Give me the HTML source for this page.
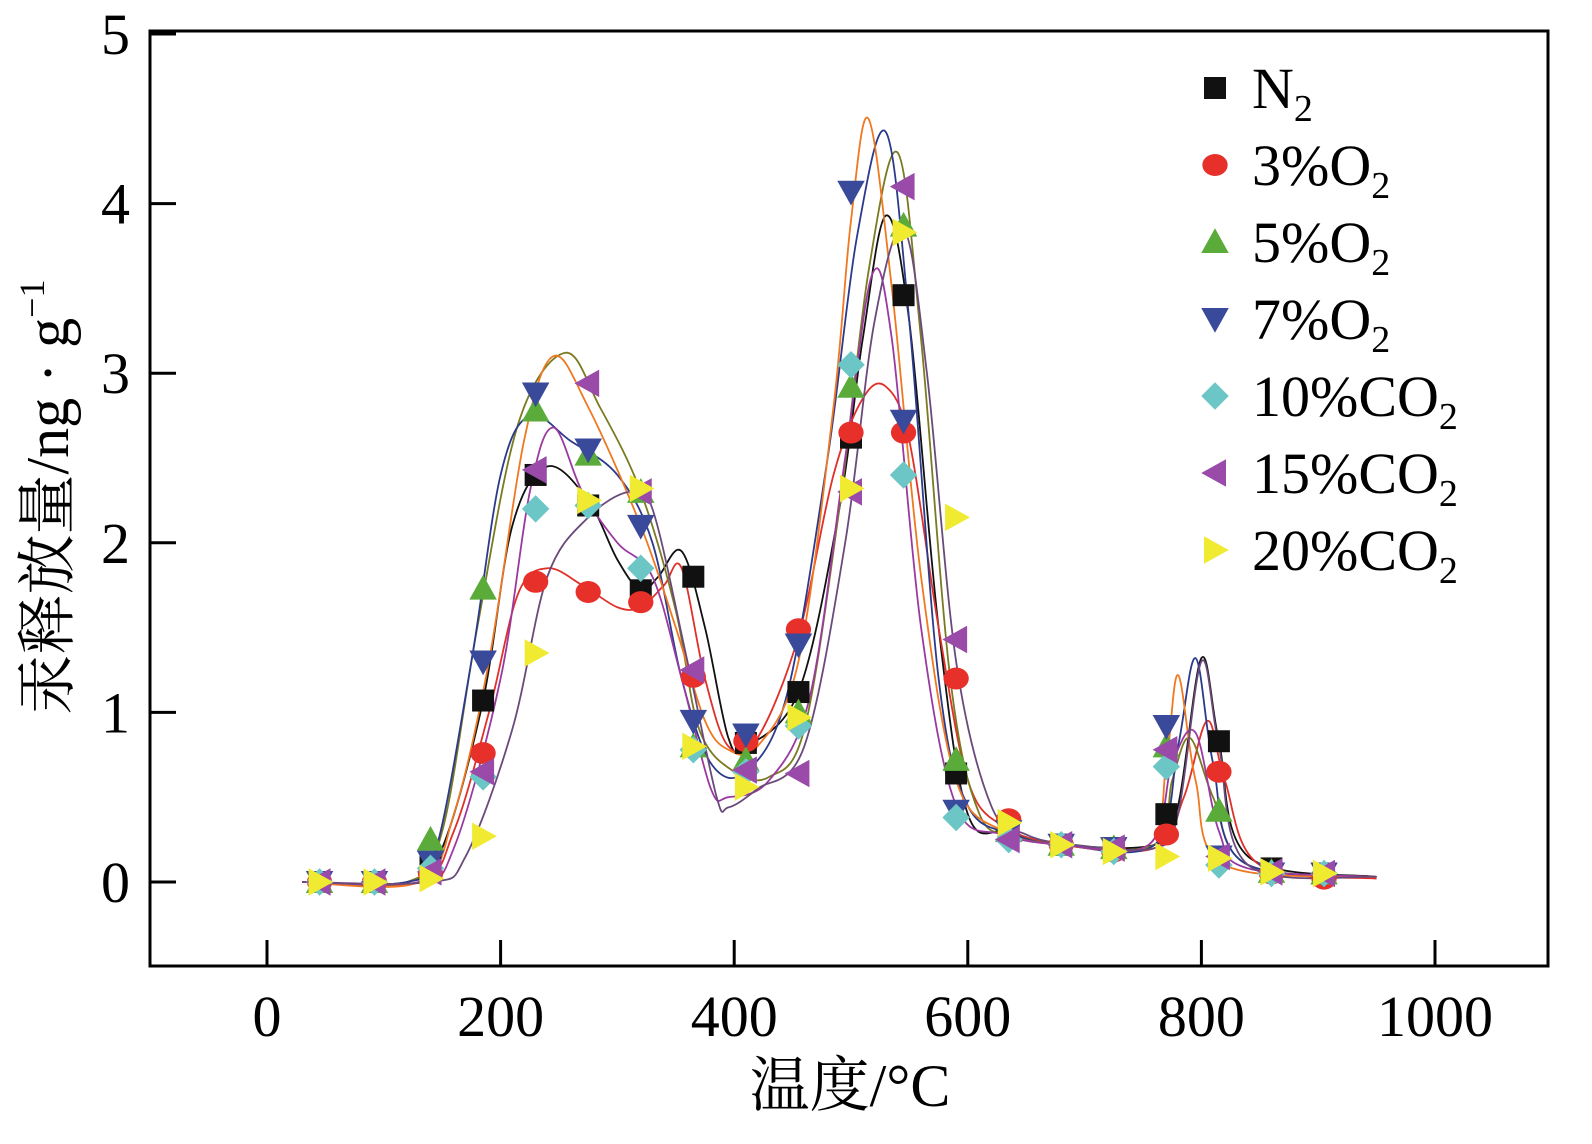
<!DOCTYPE html>
<html><head><meta charset="utf-8">
<style>
body{margin:0;background:#fff;}
svg{display:block;font-family:"Liberation Serif","Noto Serif CJK SC",serif;}
</style></head>
<body>
<svg id="chart" width="1592" height="1144" viewBox="0 0 1592 1144" xmlns="http://www.w3.org/2000/svg">
<rect x="150" y="31" width="1398" height="935" fill="none" stroke="#000" stroke-width="3"/>
<g id="axes"></g>
<g id="curves"></g>
<g id="marks"></g>
<g id="legend"></g>
<text x="850" y="1106" font-size="60" text-anchor="middle">温度/°C</text>
<text transform="translate(68,497) rotate(-90)" font-size="60" text-anchor="middle">汞释放量/ng · g<tspan font-size="36" dy="-24">−1</tspan></text>
</svg>
<script>
const xTicks=[0,200,400,600,800,1000];
const yTicks=[0,1,2,3,4,5];
const temps=[45,92,140,185,230,275,320,365,410,455,500,545,590,635,680,725,770,815,860,905];
const seriesNames=["N2","3%O2","5%O2","7%O2","10%CO2","15%CO2","20%CO2"];
const vN2=[0,0,0.1,1.07,2.4,2.22,1.72,1.8,0.82,1.12,2.62,3.46,0.64,0.32,0.22,0.2,0.4,0.83,0.08,0.05];
const vO3=[0,0,0.05,0.76,1.77,1.71,1.65,1.21,0.83,1.49,2.65,2.65,1.2,0.37,0.22,0.18,0.28,0.65,0.05,0.02];
const vO5=[0,0,0.25,1.73,2.78,2.52,2.3,0.8,0.72,1.0,2.92,3.87,0.72,0.3,0.22,0.2,0.8,0.42,0.06,0.05];
const vO7=[0,0,0.12,1.3,2.88,2.55,2.1,0.95,0.87,1.4,4.07,2.72,0.42,0.3,0.22,0.2,0.92,0.15,0.05,0.05];
const vC10=[0,0,0.08,0.62,2.2,2.22,1.85,0.78,0.65,0.92,3.05,2.4,0.38,0.25,0.22,0.18,0.68,0.1,0.05,0.05];
const vC15=[0,0,0.06,0.65,2.43,2.94,2.3,1.25,0.66,0.64,2.3,4.1,1.43,0.25,0.22,0.2,0.78,0.15,0.06,0.05];
const vC20=[0,0,0.02,0.27,1.35,2.25,2.32,0.8,0.56,0.97,2.32,3.83,2.15,0.35,0.22,0.18,0.15,0.14,0.06,0.05];
const cN2=[[30,0],[120,0],[150,0.2],[185,1.07],[210,2.1],[240,2.45],[275,2.25],[300,1.9],[320,1.72],[335,1.8],[355,1.95],[375,1.5],[395,0.85],[410,0.8],[455,1.12],[490,2.2],[510,3.2],[530,3.93],[550,3.3],[575,1.5],[600,0.4],[635,0.3],[680,0.22],[760,0.22],[780,0.45],[800,1.32],[815,0.83],[840,0.15],[950,0.03]];
const cO3=[[30,0],[130,0],[160,0.3],[190,1.0],[215,1.7],[240,1.85],[270,1.75],[300,1.62],[320,1.62],[340,1.75],[355,1.85],[375,1.2],[395,0.8],[420,0.85],[455,1.45],[485,2.4],[510,2.85],[530,2.92],[550,2.6],[575,1.5],[600,0.6],[630,0.33],[680,0.22],[760,0.2],[785,0.5],[805,0.95],[820,0.6],[850,0.1],[950,0.02]];
const cO5=[[30,0],[120,0],[150,0.3],[180,1.5],[215,2.7],[255,3.12],[285,2.8],[320,2.3],[350,1.6],[370,0.9],[400,0.65],[430,0.62],[460,0.9],[490,2.2],[515,3.6],[540,4.3],[560,3.2],[585,1.2],[610,0.4],[640,0.28],[680,0.22],[760,0.22],[775,0.6],[790,0.85],[810,0.5],[840,0.1],[950,0.03]];
const cO7=[[30,0],[120,0],[145,0.2],[175,1.3],[200,2.4],[225,2.75],[260,2.6],[300,2.4],[330,2.0],[355,1.2],[380,0.7],[410,0.65],[445,1.1],[480,2.5],[505,3.8],[530,4.42],[550,3.3],[575,1.2],[600,0.45],[640,0.28],[680,0.22],[760,0.22],[780,0.8],[795,1.32],[810,0.7],[835,0.12],[950,0.03]];
const cC10=[[30,0],[130,0],[160,0.4],[190,1.3],[220,2.6],[245,3.1],[275,2.8],[320,2.1],[350,1.5],[375,0.95],[395,0.78],[420,0.8],[455,1.3],[485,2.8],[500,3.9],[515,4.5],[535,3.5],[560,1.8],[590,0.6],[630,0.3],[680,0.22],[755,0.22],[770,0.7],[780,1.22],[795,0.6],[820,0.1],[950,0.03]];
const cC15=[[30,0],[130,0],[160,0.2],[200,1.2],[225,2.3],[245,2.68],[270,2.3],[300,2.0],[330,1.8],[355,1.2],[380,0.55],[395,0.5],[430,0.6],[465,1.1],[495,2.5],[518,3.58],[535,3.2],[560,1.5],[590,0.45],[630,0.28],[680,0.22],[755,0.22],[775,0.7],[795,0.88],[815,0.3],[840,0.08],[950,0.03]];
const cC20=[[30,0],[140,0],[170,0.15],[210,0.9],[240,1.8],[275,2.15],[310,2.3],[330,2.2],[360,1.3],[385,0.5],[395,0.44],[420,0.55],[460,0.8],[495,2.0],[520,3.3],[545,3.85],[565,3.0],[590,1.3],[620,0.45],[650,0.28],[690,0.22],[760,0.2],[780,0.4],[800,1.3],[815,0.8],[840,0.1],[950,0.03]];

const NS="http://www.w3.org/2000/svg";
const X=t=>267+t*1.168;
const Y=v=>882-v*169.6;
function mk(tag,parent,attrs){const e=document.createElementNS(NS,tag);for(const k in attrs)e.setAttribute(k,attrs[k]);parent.appendChild(e);return e;}
const axes=document.getElementById('axes');
xTicks.forEach(t=>{
  const l=mk('line',axes,{x1:X(t),x2:X(t),y1:966,y2:940,stroke:'#000','stroke-width':3});
  
  
  const tx=mk('text',axes,{x:X(t),y:1036,'font-size':58,'text-anchor':'middle'});tx.textContent=t;
  
  
});
yTicks.forEach(v=>{
  const l=mk('line',axes,{x1:150,x2:176,y1:Y(v),y2:Y(v),stroke:'#000','stroke-width':3});
  
  
  const tx=mk('text',axes,{x:130,y:Y(v)+20,'font-size':58,'text-anchor':'end'});tx.textContent=v;
  
  
});
function pathFrom(pts){
  const p=pts.map(d=>[X(d[0]),Y(d[1])]);
  let s='M'+p[0][0]+','+p[0][1];
  for(let i=0;i<p.length-1;i++){
    const p0=p[Math.max(0,i-1)],p1=p[i],p2=p[i+1],p3=p[Math.min(p.length-1,i+2)];
    const c1=[p1[0]+(p2[0]-p0[0])/6,p1[1]+(p2[1]-p0[1])/6];
    const c2=[p2[0]-(p3[0]-p1[0])/6,p2[1]-(p3[1]-p1[1])/6];
    s+=' C'+c1+' '+c2+' '+p2;
  }
  return s;
}
const curveSets=[cN2,cO3,cO5,cO7,cC10,cC15,cC20];
const curveColors=["#111","#e0302a","#7a7a20","#2c3a8c","#f07820","#9a3aa0","#6a4a7a"];
const valSets=[vN2,vO3,vO5,vO7,vC10,vC15,vC20];
const fills=["#111","#e8302a","#5aab3a","#3a4a9a","#6cc6c6","#9a4aa8","#f0ea30"];
const shapes=["square","circle","up","down","diamond","left","right"];
const cg=document.getElementById('curves');
curveSets.forEach((c,i)=>{
  const p=mk('path',cg,{d:pathFrom(c),fill:'none',stroke:curveColors[i],'stroke-width':1.8});
  
  
});
function shape(g,type,x,y,fill,r){
  let e;
  if(type==='square')e=mk('rect',g,{x:x-r,y:y-r,width:2*r,height:2*r,fill});
  else if(type==='circle')e=mk('ellipse',g,{cx:x,cy:y,rx:r*1.15,ry:r,fill});
  else{
    let pts;const k=r*1.25;
    if(type==='up')pts=[[x,y-k],[x+k,y+k*0.8],[x-k,y+k*0.8]];
    if(type==='down')pts=[[x,y+k],[x+k,y-k*0.8],[x-k,y-k*0.8]];
    if(type==='left')pts=[[x-k,y],[x+k*0.8,y-k],[x+k*0.8,y+k]];
    if(type==='right')pts=[[x+k,y],[x-k*0.8,y-k],[x-k*0.8,y+k]];
    if(type==='diamond')pts=[[x,y-k],[x+k,y],[x,y+k],[x-k,y]];
    e=mk('polygon',g,{points:pts.map(p=>p.join(',')).join(' '),fill});
  }
  return e;
}
const mg=document.getElementById('marks');
valSets.forEach((vals,i)=>{
  vals.forEach((v,j)=>{
    const e=shape(mg,shapes[i],X(temps[j]),Y(v),fills[i],11);
    
    
  });
});
const lg=document.getElementById('legend');
const legRows=[["N","2"],["3%O","2"],["5%O","2"],["7%O","2"],["10%CO","2"],["15%CO","2"],["20%CO","2"]];
seriesNames.forEach((n,i)=>{
  const y=88+i*77;
  const m=shape(lg,shapes[i],1215,y,fills[i],11);
  
  
  const t=mk('text',lg,{x:1252,y:y+20,'font-size':58});
  
  
  t.textContent=legRows[i][0];
  const s=mk('tspan',t,{'font-size':38,dy:13});s.textContent=legRows[i][1];
});
</script>
</body></html>
